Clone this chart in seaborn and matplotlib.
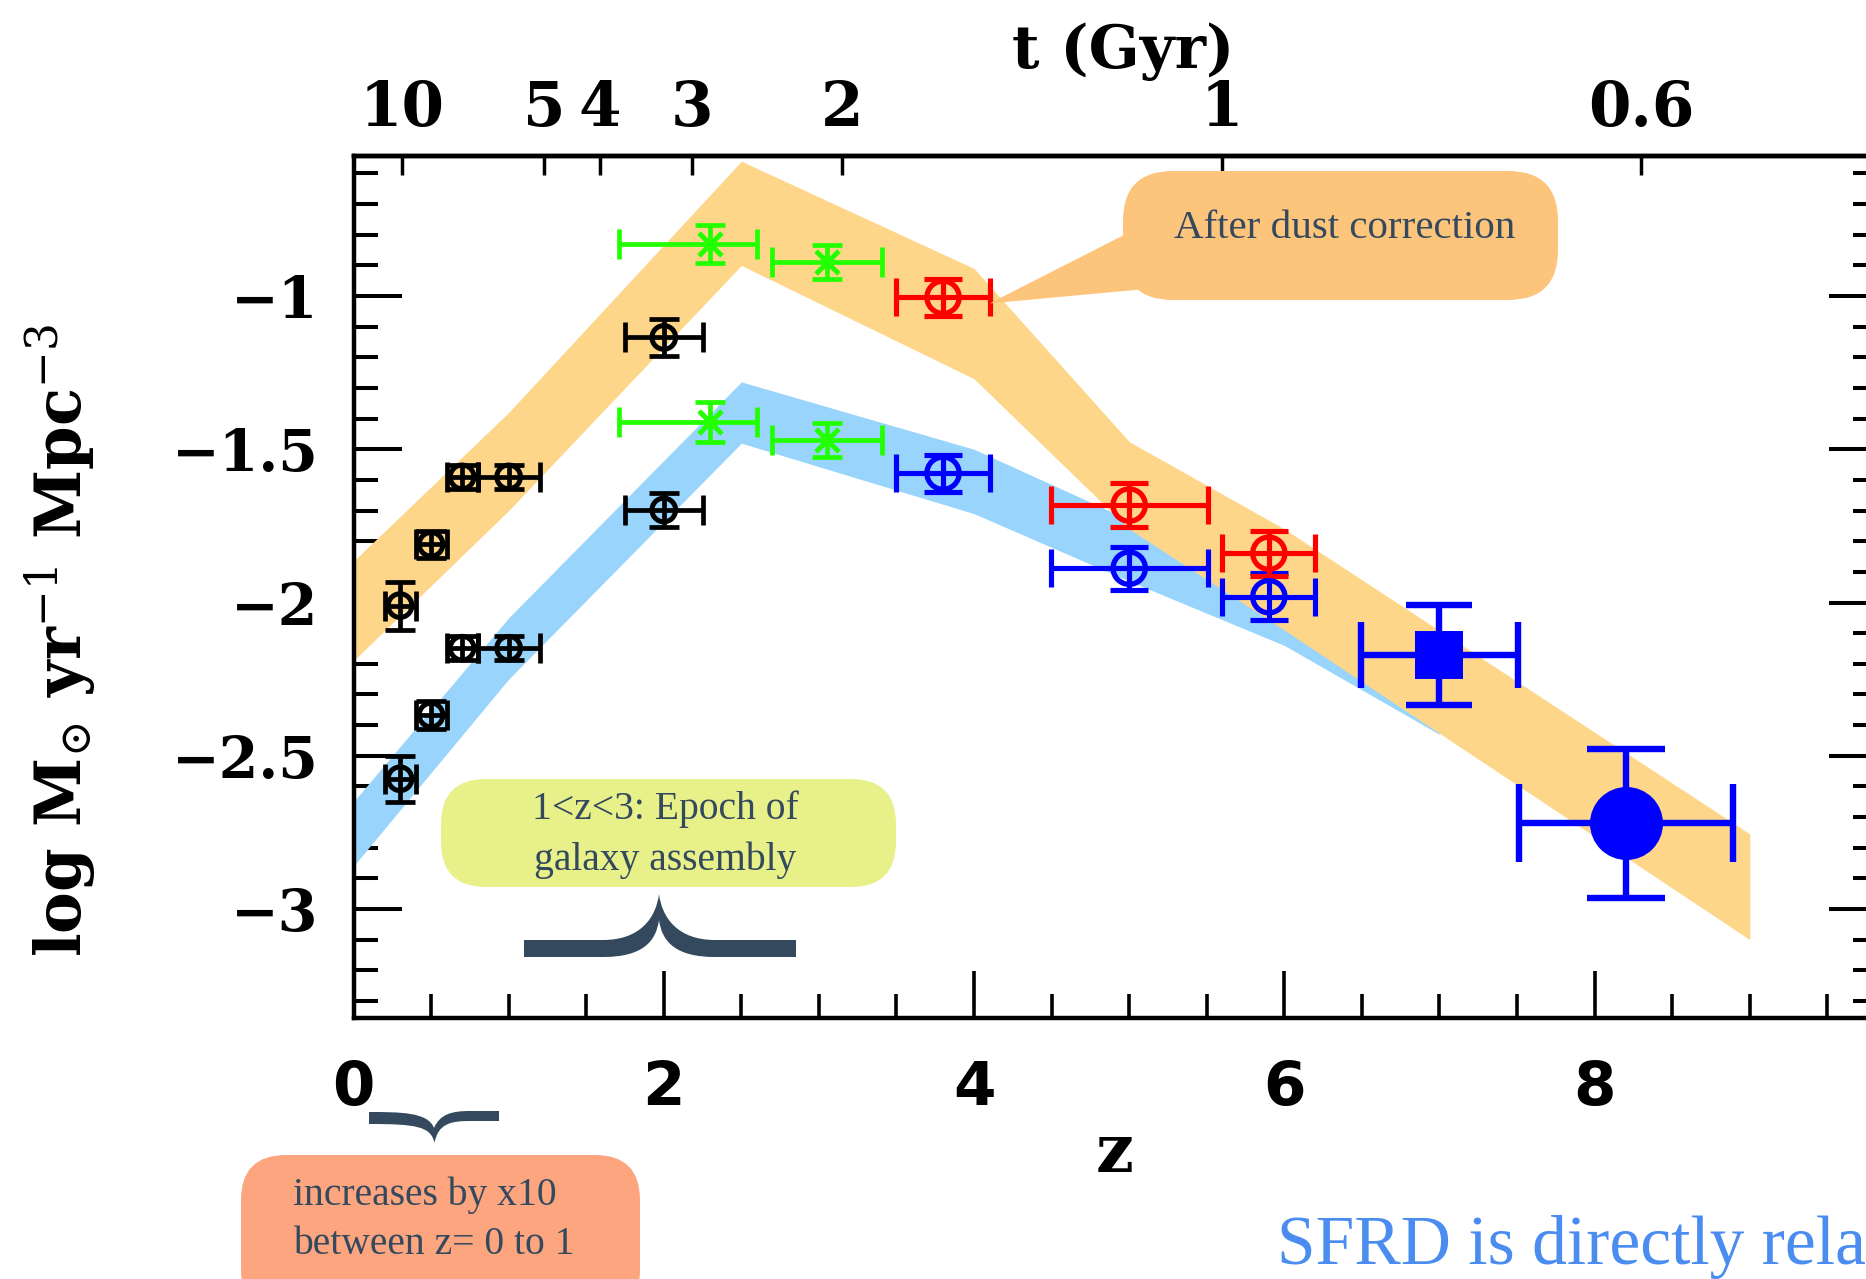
import matplotlib
matplotlib.use("Agg")
import matplotlib.pyplot as plt
import seaborn as sns
from matplotlib.patches import FancyBboxPatch, Polygon, PathPatch
from matplotlib.path import Path
from matplotlib.transforms import Affine2D
from matplotlib.ticker import MultipleLocator, NullLocator, FuncFormatter

W, H, DPI = 1866, 1279, 100

# Shaded SFRD bands: dust corrected (orange) and uncorrected UV (blue)
band_dc_z = [0.0, 1.0, 2.5, 4.0, 5.0, 6.0, 9.0]
band_dc_lo = [-2.19, -1.70, -0.90, -1.27, -1.76, -2.09, -3.10]
band_dc_hi = [-1.865, -1.38, -0.56, -0.91, -1.475, -1.76, -2.755]

band_uv_z = [0.0, 1.0, 2.5, 4.0, 5.0, 6.0, 7.0]
band_uv_lo = [-2.86, -2.25, -1.48, -1.71, -1.93, -2.14, -2.43]
band_uv_hi = [-2.65, -2.05, -1.28, -1.50, -1.73, -1.94, -2.23]

# Low-redshift measurements (black)
lowz_z = [0.3, 0.5, 0.7, 1.0, 2.0]
lowz_xerr = [0.1, 0.1, 0.1, 0.2, 0.25]
lowz_dc = [-2.01, -1.81, -1.59, -1.59, -1.135]
lowz_dc_err = [0.078, 0.045, 0.04, 0.04, 0.06]
lowz_uv = [-2.575, -2.367, -2.149, -2.149, -1.698]
lowz_uv_err = [0.075, 0.045, 0.04, 0.04, 0.055]

# z ~ 2-3 measurements (green)
lbg_z = [2.3, 3.05]
lbg_xerr_lo = [0.59, 0.35]
lbg_xerr_hi = [0.30, 0.355]
lbg_dc = [-0.83, -0.889]
lbg_dc_err = [0.063, 0.055]
lbg_uv = [-1.41, -1.47]
lbg_uv_err = [0.065, 0.055]

# z ~ 4-6 measurements: red (dust corrected), blue (uncorrected)
hiz_z = [3.8, 5.0, 5.9]
hiz_xerr = [0.30, 0.505, 0.30]
hiz_dc = [-1.004, -1.682, -1.839]
hiz_dc_err = [0.06, 0.071, 0.073]
hiz_uv = [-1.578, -1.888, -1.981]
hiz_uv_err = [0.06, 0.07, 0.076]

# z ~ 7 and z ~ 8
z7_z, z7_xerr, z7_sfrd, z7_err = [7.0], [0.507], [-2.171], [0.163]
z8_z, z8_xerr, z8_sfrd, z8_err = [8.2], [0.69], [-2.72], [0.243]

# Cosmic time (age of the universe) axis
age_z = [0.31, 1.23, 1.59, 2.18, 3.15, 5.60, 8.30]
age_labels = ["10", "5", "4", "3", "2", "1", "0.6"]

sns.set_theme(style="ticks")
plt.rcParams["font.family"] = ["DejaVu Serif", "DejaVu Sans"]
plt.rcParams["mathtext.fontset"] = "dejavuserif"
plt.rcParams.update({"axes.edgecolor": "black", "xtick.color": "black",
                     "ytick.color": "black", "text.color": "black",
                     "axes.labelcolor": "black"})

fig = plt.figure(figsize=(W / DPI, H / DPI), dpi=DPI)
fig.patch.set_facecolor("white")
ax = fig.add_axes([353.5 / W, 1 - 1017.5 / H, (1877 - 353.5) / W, (1017.5 - 156) / H])
ax.set_xlim(0, 9.82)
ax.set_ylim(-3.354, -0.543)

ax.fill_between(band_uv_z, band_uv_lo, band_uv_hi, color="#98d4fb", lw=0, zorder=1)
ax.fill_between(band_dc_z, band_dc_lo, band_dc_hi, color="#fdd68a", lw=0, zorder=2)


def bars(x, y, xerr, yerr, color, lw, cap):
    ax.errorbar(x, y, xerr=xerr, yerr=yerr, fmt="none", ecolor=color,
                elinewidth=lw, capsize=cap, capthick=lw, zorder=3)


def points(x, y, color, size, lw, marker="o", filled=False):
    if filled:
        sns.scatterplot(x=x, y=y, ax=ax, marker=marker, s=size, color=color,
                        edgecolor=color, linewidth=0, zorder=4, legend=False)
    elif marker == "x":
        sns.scatterplot(x=x, y=y, ax=ax, marker=marker, s=size, color=color,
                        linewidth=lw, zorder=4, legend=False)
    else:
        sns.scatterplot(x=x, y=y, ax=ax, marker=marker, s=size, color="none",
                        edgecolor=color, linewidth=lw, zorder=4, legend=False)


# black points
bars(lowz_z, lowz_dc, lowz_xerr, lowz_dc_err, "black", 3.4, 10.5)
bars(lowz_z, lowz_uv, lowz_xerr, lowz_uv_err, "black", 3.4, 10.5)
points(lowz_z, lowz_dc, "black", 290, 3.6)
points(lowz_z, lowz_uv, "black", 290, 3.6)

# green points
bars(lbg_z, lbg_dc, [lbg_xerr_lo, lbg_xerr_hi], lbg_dc_err, "#22ff00", 3.4, 10.5)
bars(lbg_z, lbg_uv, [lbg_xerr_lo, lbg_xerr_hi], lbg_uv_err, "#22ff00", 3.4, 10.5)
points(lbg_z, lbg_dc, "#22ff00", 272, 3.6, marker="x")
points(lbg_z, lbg_uv, "#22ff00", 272, 3.6, marker="x")

# red / blue open points
bars(hiz_z, hiz_uv, hiz_xerr, hiz_uv_err, "#0000ff", 3.7, 13.7)
bars(hiz_z, hiz_dc, hiz_xerr, hiz_dc_err, "#ff0000", 3.7, 13.7)
points(hiz_z, hiz_uv, "#0000ff", 540, 3.8)
points(hiz_z, hiz_dc, "#ff0000", 540, 3.8)

# z~7 square and z~8 circle
bars(z7_z, z7_sfrd, z7_xerr, z7_err, "#0000ff", 4.6, 24)
bars(z8_z, z8_sfrd, z8_xerr, z8_err, "#0000ff", 4.6, 28)
points(z7_z, z7_sfrd, "#0000ff", 1190, 0, marker="s", filled=True)
points(z8_z, z8_sfrd, "#0000ff", 2765, 0, marker="o", filled=True)

# axes styling
for s in ax.spines.values():
    s.set_linewidth(3.2)
    s.set_color("black")
ax.xaxis.set_major_locator(MultipleLocator(2))
ax.xaxis.set_minor_locator(MultipleLocator(0.5))
ax.yaxis.set_major_locator(MultipleLocator(0.5))
ax.yaxis.set_minor_locator(MultipleLocator(0.1))
ax.yaxis.set_major_formatter(FuncFormatter(lambda v, p: f"{v:g}".replace("-", "\u2212")))
ax.tick_params(axis="both", which="both", direction="in")
ax.tick_params(axis="x", which="major", length=34, width=2.6, pad=30, labelsize=44,
               top=False, labelfontfamily="DejaVu Sans")
ax.tick_params(axis="x", which="minor", length=17, width=2.6, top=False)
ax.tick_params(axis="y", which="major", length=34.5, width=2.9, pad=25, labelsize=41,
               right=True)
ax.tick_params(axis="y", which="minor", length=17, width=2.9, right=True)
for lab in ax.get_xticklabels() + ax.get_yticklabels():
    lab.set_fontweight("bold")

sec = ax.secondary_xaxis("top")
sec.set_xticks(age_z, labels=age_labels)
sec.xaxis.set_minor_locator(NullLocator())
sec.tick_params(direction="in", length=14, width=2.5, pad=12, labelsize=44)
sec.spines["top"].set_linewidth(3.2)
for lab in sec.get_xticklabels():
    lab.set_fontweight("bold")

fig.text(1123 / W, 1 - 52 / H, "t (Gyr)", fontsize=43, fontweight="bold",
         ha="center", va="center")
fig.text(60 / W, 1 - 640 / H, r"log M$_{\odot}$ yr$^{-1}$ Mpc$^{-3}$", fontsize=45,
         fontweight="bold", rotation=90, ha="center", va="center")
fig.text(1115 / W, 1 - 1154 / H, "z", fontsize=48, fontweight="bold",
         ha="center", va="center")

# annotation layer in pixel units (origin top-left)
px = Affine2D().scale(1 / W, -1 / H).translate(0, 1) + fig.transFigure
note_font = dict(family=["Liberation Serif", "DejaVu Serif"], color="#34495e")

# callout pointing at the dust-corrected z~4 point
tip = ax.transData.transform((hiz_z[0] + hiz_xerr[0], hiz_dc[0] - 0.02))
tip_px = (tip[0], H - tip[1])
fig.add_artist(Polygon([(1126, 234), tip_px, (1146, 289), (1220, 289), (1220, 234)],
                       closed=True, transform=px, fc="#fdc47b", ec="none", zorder=5))
fig.add_artist(FancyBboxPatch((1123, 171), 435, 129,
                              boxstyle="round,pad=0,rounding_size=50",
                              transform=px, fc="#fdc47b", ec="none", zorder=5))
fig.text(1345, 229, "After dust correction", transform=px, fontsize=29.5,
         ha="center", va="center", zorder=6, **note_font)

# epoch of galaxy assembly
fig.add_artist(FancyBboxPatch((441, 779), 455, 108,
                              boxstyle="round,pad=0,rounding_size=45",
                              transform=px, fc="#e8f08a", ec="none", zorder=5))
fig.text(665, 809, "1<z<3: Epoch of", transform=px, fontsize=28.5,
         ha="center", va="center", zorder=6, **note_font)
fig.text(665, 860, "galaxy assembly", transform=px, fontsize=28.5,
         ha="center", va="center", zorder=6, **note_font)

C4 = Path.CURVE4
brace_up = Path(
    [(524, 940), (603, 940),
     (640, 940), (656, 918), (659, 894),
     (662, 918), (678, 940), (715, 940),
     (796, 940), (796, 957), (715, 957),
     (676, 957), (662, 942), (659, 920),
     (656, 942), (642, 957), (603, 957),
     (524, 957), (524, 940)],
    [Path.MOVETO, Path.LINETO, C4, C4, C4, C4, C4, C4,
     Path.LINETO, Path.LINETO, Path.LINETO, C4, C4, C4, C4, C4, C4,
     Path.LINETO, Path.CLOSEPOLY])
fig.add_artist(PathPatch(brace_up, transform=px, fc="#34495e", ec="none", zorder=5))

# increase between z = 0 and 1
fig.add_artist(FancyBboxPatch((241, 1155), 399, 160,
                              boxstyle="round,pad=0,rounding_size=45",
                              transform=px, fc="#fca57e", ec="none", zorder=5))
fig.text(293, 1195, "increases by x10", transform=px, fontsize=28.5,
         ha="left", va="center", zorder=6, **note_font)
fig.text(293, 1244, "between z= 0 to 1", transform=px, fontsize=28.5,
         ha="left", va="center", zorder=6, **note_font)

brace_down = Path(
    [(369, 1112),
     (400, 1112), (428, 1112), (434, 1128),
     (440, 1114), (452, 1111), (470, 1111),
     (499, 1111), (499, 1121), (470, 1121),
     (450, 1121), (438, 1124), (434.5, 1143),
     (431, 1126), (415, 1124), (369, 1124),
     (369, 1112)],
    [Path.MOVETO, C4, C4, C4, C4, C4, C4,
     Path.LINETO, Path.LINETO, Path.LINETO, C4, C4, C4, C4, C4, C4,
     Path.CLOSEPOLY])
fig.add_artist(PathPatch(brace_down, transform=px, fc="#34495e", ec="none", zorder=5))

fig.text(1277, 1247, "SFRD is directly related", transform=px, fontsize=50,
         ha="left", va="center", color="#4a8cf0",
         family=["Liberation Serif", "DejaVu Serif"], zorder=6)

fig.savefig("out.png", dpi=DPI, facecolor="white")
